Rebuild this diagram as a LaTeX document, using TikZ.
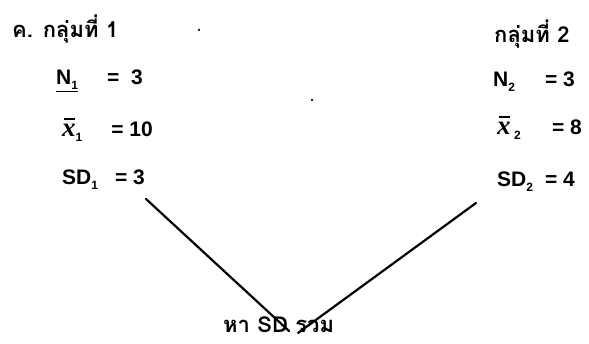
\documentclass[tikz,border=0pt]{standalone}
\usepackage{fontspec}
\setmainfont[Script=Thai]{Loma}
\newfontfamily\latfont{Liberation Sans}
\newfontfamily\xfont{Liberation Serif}
\newcommand\lowsub[1]{\raisebox{-0.45ex}{\fontsize{12}{12}\selectfont #1}}
\newcommand\xbar{\leavevmode\rlap{\hspace{0.08em}\raisebox{0.82em}{\rule{0.55em}{1.3pt}}}{\xfont\fontsize{27}{27}\selectfont\bfseries\itshape x}}
\begin{document}
\begin{tikzpicture}[x=1pt,y=-1pt,
  lbl/.style={inner sep=0pt, anchor=base west, font=\latfont\fontsize{21}{21}\selectfont\bfseries},
  val/.style={inner sep=0pt, anchor=base east, font=\latfont\fontsize{21}{21}\selectfont\bfseries},
  hdr/.style={inner sep=0pt, anchor=base west, font=\fontsize{22}{22}\selectfont\bfseries},
  conn/.style={line width=2.2pt, line cap=round},
  speck/.style={fill=black, inner sep=0pt, minimum size=2.5pt, circle}]
\useasboundingbox (0,0) rectangle (589,344);
% headers
\node[hdr] (h1) at (12,38) {ค. กลุ่มที่ 1};
\node[hdr] (h2) at (494,43) {กลุ่มที่ 2};
% group 1
\node[lbl] (n1) at (56,85) {\underline{N\lowsub{1}}};
\node[val] (n1v) at (143,85) {=\ \ 3};
\node[lbl] (x1) at (62,137) {\xbar\lowsub{1}};
\node[val] (x1v) at (153,137) {= 10};
\node[lbl] (s1) at (62,185) {SD\lowsub{1}};
\node[val] (s1v) at (145,185) {= 3};
% group 2
\node[lbl] (n2) at (493,87) {N\lowsub{2}};
\node[val] (n2v) at (575,87) {= 3};
\node[lbl] (x2) at (497,135) {\xbar\,\lowsub{2}};
\node[val] (x2v) at (582,135) {= 8};
\node[lbl] (s2) at (497,187) {SD\lowsub{2}};
\node[val] (s2v) at (575,187) {= 4};
% bottom
\node[hdr] (tot) at (223,333) {หา SD รวม};
% connectors
\coordinate (a1) at (146,199);
\coordinate (b1) at (289,331);
\coordinate (a2) at (476,203);
\coordinate (b2) at (298,333);
\draw[conn] (a1) -- (b1);
\draw[conn] (a2) -- (b2);
% specks
\node[speck] (d1) at (199,30) {};
\node[speck] (d2) at (312,100) {};
\end{tikzpicture}
\end{document}
